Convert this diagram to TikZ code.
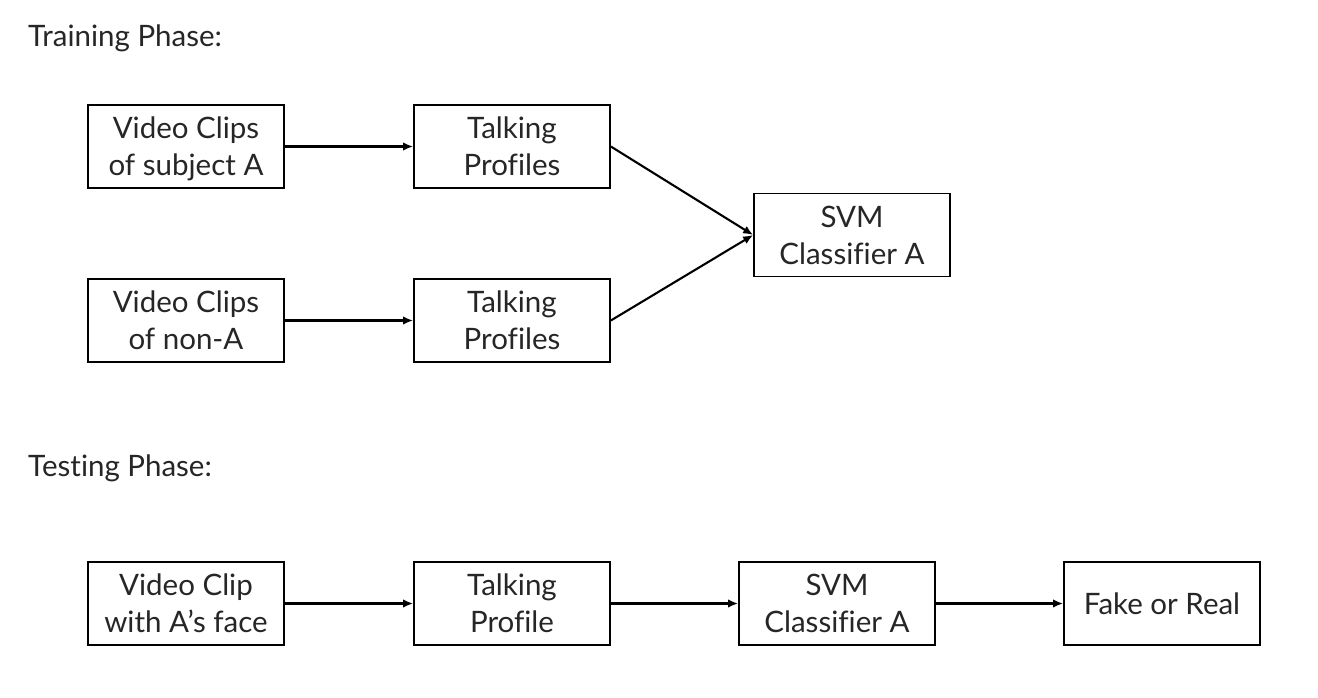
\documentclass[tikz,border=0pt]{standalone}
\usepackage{fontspec}
\setmainfont{Lato}[Ligatures=CommonOff]
\usetikzlibrary{arrows.meta}
\begin{document}
\begin{tikzpicture}[x=1pt,y=-1pt,
  box/.style={draw=black,line width=1.7pt,minimum width=196pt,minimum height=83pt,inner sep=0pt,align=center,font=\fontsize{29.5}{37}\selectfont,text=black!85,text depth=0pt},
  lbl/.style={anchor=base west,inner sep=0pt,font=\fontsize{29.5}{37}\selectfont,text=black!85},
  arr/.style={line width=2.1pt,-{Latex[length=10pt,width=8.5pt]}}]
\useasboundingbox (0,0) rectangle (1318,698);
\node[lbl] (train) at (28,47) {Training Phase:};
\node[lbl] (test) at (28,476) {Testing Phase:};
\node[box] (v1) at (186,146.5) {Video Clips\\of subject A};
\node[box] (t1) at (512,146.5) {Talking\\Profiles};
\node[box] (svm1) at (852,235) {SVM\\Classifier A};
\node[box] (v2) at (186,320.5) {Video Clips\\of non-A};
\node[box] (t2) at (512,320.5) {Talking\\Profiles};
\node[box] (v3) at (186,603.5) {Video Clip\\with A’s face};
\node[box] (t3) at (512,603.5) {Talking\\Profile};
\node[box] (svm2) at (837,603.5) {SVM\\Classifier A};
\node[box] (fr) at (1162,603.5) {Fake or Real};
\draw[arr] (v1) -- (t1);
\draw[arr] (v2) -- (t2);
\draw[arr] (t1.east) -- (svm1.west);
\draw[arr] (t2.east) -- (svm1.west);
\draw[arr] (v3) -- (t3);
\draw[arr] (t3) -- (svm2);
\draw[arr] (svm2) -- (fr);
\end{tikzpicture}
\end{document}
